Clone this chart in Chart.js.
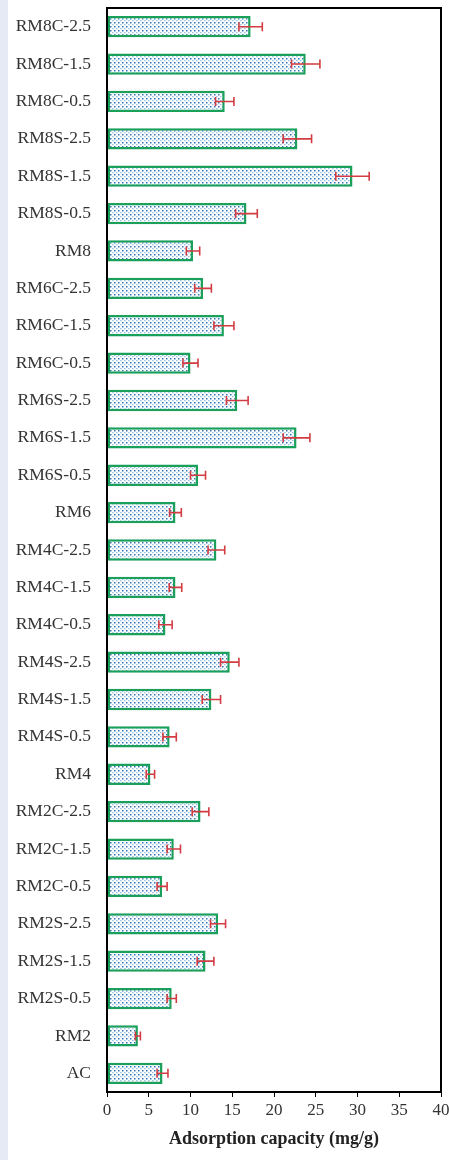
<!DOCTYPE html>
<html>
<head>
<meta charset="utf-8">
<script src="https://cdn.jsdelivr.net/npm/chart.js@4/dist/chart.umd.min.js"></script>
<style>
  html, body { margin: 0; padding: 0; background: #ffffff; }
  #wrap { position: relative; width: 449px; height: 1160px; }
</style>
</head>
<body>
<div id="wrap"><canvas id="c" width="449" height="1160"></canvas></div>
<script>
// Sample names, top to bottom
const categories = [
  'RM8C-2.5', 'RM8C-1.5', 'RM8C-0.5', 'RM8S-2.5', 'RM8S-1.5', 'RM8S-0.5', 'RM8',
  'RM6C-2.5', 'RM6C-1.5', 'RM6C-0.5', 'RM6S-2.5', 'RM6S-1.5', 'RM6S-0.5', 'RM6',
  'RM4C-2.5', 'RM4C-1.5', 'RM4C-0.5', 'RM4S-2.5', 'RM4S-1.5', 'RM4S-0.5', 'RM4',
  'RM2C-2.5', 'RM2C-1.5', 'RM2C-0.5', 'RM2S-2.5', 'RM2S-1.5', 'RM2S-0.5', 'RM2', 'AC'
];
// Adsorption capacity (mg/g)
const capacity = [
  17.2, 23.8, 14.1, 22.8, 29.4, 16.7, 10.3,
  11.5, 14.0, 10.0, 15.6, 22.7, 10.9, 8.2,
  13.1, 8.2, 7.0, 14.7, 12.5, 7.5, 5.2,
  11.2, 8.0, 6.6, 13.3, 11.8, 7.75, 3.7, 6.65
];
// Standard deviation (mg/g)
const deviation = [
  1.4, 1.7, 1.1, 1.7, 2.0, 1.3, 0.8,
  1.0, 1.2, 0.9, 1.3, 1.6, 0.9, 0.7,
  1.0, 0.75, 0.8, 1.1, 1.1, 0.8, 0.5,
  1.0, 0.8, 0.6, 0.9, 1.0, 0.55, 0.3, 0.65
];
const xTicks = [0, 5, 10, 15, 20, 25, 30, 35, 40];

// Stippled fill for the bars
function makeDots() {
  const t = document.createElement('canvas');
  t.width = 4; t.height = 4;
  const g = t.getContext('2d');
  g.fillStyle = '#ffffff';
  g.fillRect(0, 0, 4, 4);
  g.fillStyle = '#9fc4e6';
  g.fillRect(0, 0, 1.6, 1.3);
  g.fillStyle = '#2f74b6';
  g.fillRect(2, 2, 1.5, 1.5);
  return document.getElementById('c').getContext('2d').createPattern(t, 'repeat');
}

const frame = {
  id: 'frame',
  beforeDraw(chart) {
    const ctx = chart.ctx;
    ctx.save();
    ctx.fillStyle = '#ffffff';
    ctx.fillRect(0, 0, chart.width, chart.height);
    ctx.fillStyle = '#e6eaf5';
    ctx.fillRect(0, 0, 8, chart.height);
    ctx.restore();
  },
  afterDraw(chart) {
    const ctx = chart.ctx, a = chart.chartArea;
    ctx.save();
    ctx.strokeStyle = '#000000';
    ctx.lineWidth = 2;
    ctx.strokeRect(a.left, a.top, a.right - a.left, a.bottom - a.top);
    ctx.restore();
  }
};

const errorBars = {
  id: 'errorBars',
  afterDatasetsDraw(chart) {
    const ctx = chart.ctx;
    const xs = chart.scales.x, ys = chart.scales.y;
    ctx.save();
    ctx.strokeStyle = '#d23c42';
    ctx.lineWidth = 1.6;
    capacity.forEach((v, i) => {
      const y = ys.getPixelForValue(i);
      const x1 = xs.getPixelForValue(v - deviation[i]);
      const x2 = xs.getPixelForValue(v + deviation[i]);
      ctx.beginPath();
      ctx.moveTo(x1, y); ctx.lineTo(x2, y);
      ctx.moveTo(x1, y - 4.5); ctx.lineTo(x1, y + 4.5);
      ctx.moveTo(x2, y - 4.5); ctx.lineTo(x2, y + 4.5);
      ctx.stroke();
    });
    ctx.restore();
  }
};

new Chart(document.getElementById('c'), {
  type: 'bar',
  data: {
    labels: categories,
    datasets: [{
      data: capacity,
      backgroundColor: makeDots(),
      borderColor: '#1aa05a',
      borderWidth: 2.5,
      borderSkipped: false,
      categoryPercentage: 1,
      barPercentage: 0.57
    }]
  },
  options: {
    indexAxis: 'y',
    responsive: false,
    animation: false,
    devicePixelRatio: 1,
    layout: { padding: { left: 0, right: 8, top: 8, bottom: 0 } },
    plugins: { legend: { display: false }, tooltip: { enabled: false } },
    scales: {
      x: {
        min: 0, max: 40,
        afterBuildTicks(scale) { scale.ticks = xTicks.map(v => ({ value: v })); },
        afterFit(scale) {
          scale.height = 68;
          scale.paddingLeft = 0; scale.paddingRight = 0;
        },
        grid: { drawOnChartArea: false, drawTicks: true, tickLength: 5, color: '#000000' },
        border: { display: false },
        ticks: {
          color: '#333333', padding: 3,
          font: { family: 'Liberation Serif', size: 17 }
        },
        title: {
          display: true, text: 'Adsorption capacity (mg/g)', color: '#222222',
          font: { family: 'Liberation Serif', size: 18, weight: 'bold' },
          padding: { top: 0, bottom: 10 }
        }
      },
      y: {
        afterFit(scale) {
          scale.width = 107;
          scale.paddingTop = 0; scale.paddingBottom = 0;
        },
        grid: { display: false },
        border: { display: false },
        ticks: {
          color: '#333333', padding: 8,
          font: { family: 'Liberation Serif', size: 17.5 }
        }
      }
    }
  },
  plugins: [frame, errorBars]
});
</script>
</body>
</html>
